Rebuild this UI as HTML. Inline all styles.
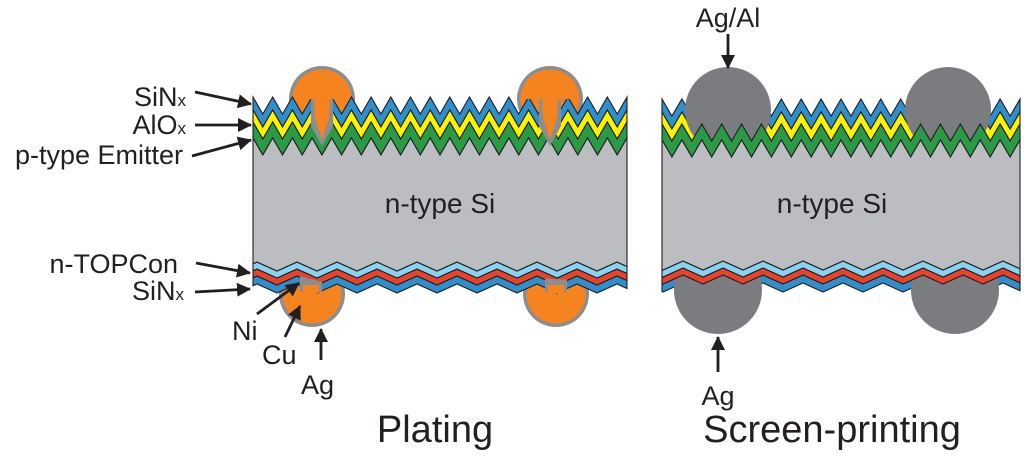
<!DOCTYPE html>
<html><head><meta charset="utf-8">
<style>
html,body{margin:0;padding:0;background:#fff;width:1024px;height:459px;overflow:hidden}
svg{display:block}
text{font-family:"Liberation Sans",Arial,sans-serif;fill:#231f20}
</style></head>
<body>
<svg id="s" width="1024" height="459" viewBox="0 0 1024 459" xmlns="http://www.w3.org/2000/svg">
<defs>
<marker id="ah" markerWidth="14" markerHeight="14" refX="13" refY="7" orient="auto" markerUnits="userSpaceOnUse">
<path d="M0,0 L14,7 L0,14 z" fill="#231f20"/></marker>
</defs>
<g id="g"></g>
<text x="186" y="106" font-size="27" text-anchor="end">SiN<tspan font-size="17">x</tspan></text>
<text x="186" y="134" font-size="27" text-anchor="end">AlO<tspan font-size="17">x</tspan></text>
<text x="183" y="164" font-size="27" text-anchor="end">p-type Emitter</text>
<line x1="195" y1="92" x2="251" y2="104" stroke="#231f20" stroke-width="2.8" marker-end="url(#ah)"/>
<line x1="195" y1="125" x2="251" y2="125" stroke="#231f20" stroke-width="2.8" marker-end="url(#ah)"/>
<line x1="192" y1="156" x2="251" y2="140" stroke="#231f20" stroke-width="2.8" marker-end="url(#ah)"/>
<text x="178" y="273" font-size="27" text-anchor="end">n-TOPCon</text>
<text x="184" y="300" font-size="27" text-anchor="end">SiN<tspan font-size="17">x</tspan></text>
<line x1="196" y1="263" x2="250" y2="273" stroke="#231f20" stroke-width="2.8" marker-end="url(#ah)"/>
<line x1="195" y1="292" x2="250" y2="289" stroke="#231f20" stroke-width="2.8" marker-end="url(#ah)"/>
<text x="232" y="340" font-size="27">Ni</text>
<text x="262" y="364" font-size="27">Cu</text>
<text x="301" y="394" font-size="27">Ag</text>
<line x1="257" y1="314" x2="299" y2="283" stroke="#231f20" stroke-width="2.8" marker-end="url(#ah)"/>
<line x1="285" y1="337" x2="300" y2="306" stroke="#231f20" stroke-width="2.8" marker-end="url(#ah)"/>
<line x1="321" y1="360" x2="321" y2="329" stroke="#231f20" stroke-width="2.8" marker-end="url(#ah)"/>
<text x="728" y="27" font-size="27" text-anchor="middle">Ag/Al</text>
<line x1="728" y1="34" x2="728" y2="68" stroke="#231f20" stroke-width="2.8" marker-end="url(#ah)"/>
<text x="718" y="405" font-size="27" text-anchor="middle">Ag</text>
<line x1="718" y1="372" x2="718" y2="337" stroke="#231f20" stroke-width="2.8" marker-end="url(#ah)"/>
<text x="440" y="213" font-size="28" text-anchor="middle">n-type Si</text>
<text x="832" y="213" font-size="28" text-anchor="middle">n-type Si</text>
<text x="435" y="442" font-size="38" text-anchor="middle">Plating</text>
<text x="832" y="442" font-size="38" text-anchor="middle">Screen-printing</text>
</svg>
<script>
var NS="http://www.w3.org/2000/svg",G=document.getElementById("g");
function el(t,a){var e=document.createElementNS(NS,t);for(var k in a)e.setAttribute(k,a[k]);G.appendChild(e);return e;}
function yAt(x,ph,p,y0,A){var t=(x-ph)/p;var f=((t%1)+1)%1;var tr=f<0.5?2*f:2-2*f;return y0+A*tr;}
function zig(x0,x1,ph,p,y0,A,off){var pts=[],xs=[x0];var k=Math.ceil((x0-ph)/(p/2));for(;;k++){var x=ph+k*p/2;if(x<=x0+0.01)continue;if(x>=x1-0.01)break;xs.push(x);}xs.push(x1);
for(var i=0;i<xs.length;i++)pts.push([xs[i],yAt(xs[i],ph,p,y0,A)+off]);return pts;}
function band(P,a,b,fill){var t=zig(P.x0,P.x1,P.ph,P.p,P.y0,P.A,a),u=zig(P.x0,P.x1,P.ph,P.p,P.y0,P.A,b).reverse();
el("polygon",{points:t.concat(u).map(function(q){return q[0].toFixed(1)+","+q[1].toFixed(1)}).join(" "),fill:fill,stroke:"#1f1f1f","stroke-width":1.1,"stroke-linejoin":"miter"});}
function body(T,B,tOff){var t=zig(T.x0,T.x1,T.ph,T.p,T.y0,T.A,tOff),u=zig(B.x0,B.x1,B.ph,B.p,B.y0,B.A,0).reverse();
el("polygon",{points:t.concat(u).map(function(q){return q[0].toFixed(1)+","+q[1].toFixed(1)}).join(" "),fill:"#bcbdc1",stroke:"#1f1f1f","stroke-width":1.1});}
var BLUE="#2f8fcd",YEL="#fff200",GRN="#2b9a47",LB="#86d3f2",RED="#e8432a",OR="#f5841f",OG="#8d8d8f",DG="#7b7c80";
var LT={x0:253,x1:627,ph:253,p:374/19,y0:97,A:17},LB2={x0:253,x1:627,ph:257,p:40,y0:262,A:9};
[322,550].forEach(function(cx){el("circle",{cx:cx,cy:99,r:33,fill:OG});el("circle",{cx:cx,cy:99,r:29.5,fill:OR});});
[312,556].forEach(function(cx){el("circle",{cx:cx,cy:294,r:33,fill:OG});el("circle",{cx:cx,cy:294,r:29.5,fill:OR});});
band(LT,0,13,BLUE);band(LT,13,25,YEL);band(LT,25,41,GRN);
band(LB2,14,22,BLUE);band(LB2,7,14,RED);band(LB2,0,7,LB);
body(LT,LB2,41);
[322,550].forEach(function(cx){
 el("polygon",{points:(cx-11)+",96 "+(cx+11)+",96 "+(cx+11)+",126 "+cx+",146 "+(cx-11)+",126",fill:OG});
 el("rect",{x:cx-25,y:90,width:50,height:9,fill:OR});
 el("polygon",{points:(cx-8)+",96 "+(cx+8)+",96 "+(cx+7)+",118 "+cx+",139 "+(cx-7)+",118",fill:OR});
});
[311,556].forEach(function(cx){
 el("polygon",{points:(cx-11)+","+(yAt(cx-11,257,40,262,9)+13)+" "+(cx+11)+","+(yAt(cx+11,257,40,262,9)+13)+" "+(cx+11)+",292 "+(cx-11)+",292",fill:OG});
 el("rect",{x:cx-8,y:285,width:16,height:8,fill:OR});
});
var RT={x0:662,x1:1020,ph:662,p:358/18,y0:99,A:17},RB={x0:662,x1:1020,ph:683,p:40,y0:261,A:9};
band(RT,0,13,BLUE);band(RT,13,25,YEL);
band(RB,14,22,BLUE);
[728,948].forEach(function(cx){el("circle",{cx:cx,cy:110,r:43,fill:DG});});
[718,955].forEach(function(cx){el("circle",{cx:cx,cy:290,r:44,fill:DG});});
band(RT,25,41,GRN);band(RB,7,14,RED);band(RB,0,7,LB);
body(RT,RB,41);
</script>
</body></html>
